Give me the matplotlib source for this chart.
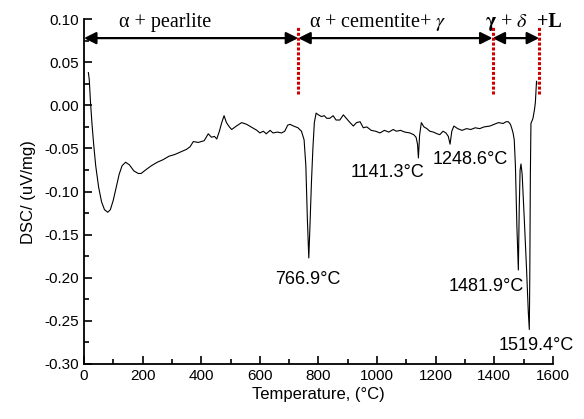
import matplotlib
matplotlib.use('Agg')
import matplotlib.pyplot as plt
from matplotlib.ticker import MultipleLocator, FormatStrFormatter

plt.rcParams['font.family'] = 'Liberation Sans'
plt.rcParams['mathtext.fontset'] = 'stix'
plt.rcParams['axes.unicode_minus'] = False
plt.rcParams['font.size'] = 11

# DSC curve
temp = [15, 18, 22, 27, 33, 40, 50, 60, 70, 81, 90, 100, 110, 120, 130, 142,
        155, 170, 185, 195, 210, 230, 250, 270, 290, 310, 330, 350, 362, 373,
        390, 410, 424, 435, 445, 453, 462, 470, 478, 486, 496, 504, 520, 538,
        555, 575, 590, 600, 612, 622, 635, 645, 660, 674, 685, 695, 703, 715,
        730, 742, 751, 757, 762, 767, 771, 776, 781, 786, 792, 800, 810, 820,
        828, 839, 850, 860, 873, 885, 895, 905, 919, 930, 942, 953, 965, 980,
        995, 1010, 1025, 1040, 1055, 1066, 1080, 1095, 1112, 1125, 1133, 1138,
        1141, 1145, 1151, 1160, 1170, 1180, 1192, 1205, 1214, 1225, 1235, 1243,
        1249, 1255, 1262, 1275, 1290, 1305, 1320, 1335, 1350, 1365, 1385, 1400,
        1414, 1430, 1440, 1448, 1455, 1459, 1464, 1468, 1472, 1477, 1482, 1485,
        1488, 1491, 1495, 1502, 1510, 1516, 1519.4, 1521, 1523, 1525, 1532,
        1537, 1540, 1542, 1544, 1545]
dsc = [0.038, 0.030, 0.005, -0.020, -0.045, -0.070, -0.095, -0.112, -0.121,
       -0.124, -0.121, -0.110, -0.095, -0.080, -0.070, -0.066, -0.069, -0.076,
       -0.079, -0.079, -0.075, -0.070, -0.066, -0.063, -0.059, -0.057, -0.054,
       -0.051, -0.048, -0.042, -0.043, -0.041, -0.033, -0.037, -0.036, -0.039,
       -0.030, -0.020, -0.012, -0.020, -0.025, -0.028, -0.024, -0.020, -0.022,
       -0.026, -0.029, -0.032, -0.030, -0.033, -0.029, -0.032, -0.031, -0.032,
       -0.030, -0.023, -0.022, -0.024, -0.026, -0.030, -0.040, -0.070, -0.130,
       -0.177, -0.140, -0.090, -0.050, -0.020, -0.009, -0.011, -0.013, -0.012,
       -0.015, -0.015, -0.012, -0.017, -0.017, -0.011, -0.015, -0.019, -0.024,
       -0.020, -0.019, -0.026, -0.025, -0.029, -0.030, -0.032, -0.029, -0.031,
       -0.028, -0.030, -0.029, -0.031, -0.032, -0.034, -0.037, -0.045, -0.061,
       -0.035, -0.020, -0.025, -0.027, -0.030, -0.031, -0.033, -0.034, -0.030,
       -0.032, -0.036, -0.045, -0.030, -0.024, -0.027, -0.029, -0.027, -0.028,
       -0.026, -0.027, -0.025, -0.024, -0.022, -0.020, -0.021, -0.019, -0.019,
       -0.022, -0.026, -0.032, -0.040, -0.070, -0.140, -0.191, -0.120, -0.075,
       -0.068, -0.080, -0.130, -0.190, -0.240, -0.260, -0.200, -0.080, -0.021,
       -0.015, -0.005, 0.003, 0.015, 0.028, 0.025]

# phase boundaries and labels
bounds = [0, 731, 1394, 1553]
phase_labels = [r'α + pearlite', r'α + cementite+ $\gamma$']
label_x = [277, 1003]

peaks = ['766.9°C', '1141.3°C', '1248.6°C', '1481.9°C', '1519.4°C']
peak_x = [765, 1037, 1317, 1373, 1544]
peak_y = [-0.202, -0.078, -0.063, -0.210, -0.278]

fig = plt.figure(figsize=(5.84, 4.19), dpi=100)
ax = fig.add_axes([0.1438, 0.1313, 0.803, 0.823])

ax.plot(temp, dsc, 'k-', linewidth=0.8)

# red dotted boundary lines
for b in bounds[1:]:
    ax.plot([b, b], [0.013, 0.091], color='#d00000', linestyle=(0, (1, 0.6)),
            linewidth=2.2, clip_on=False, zorder=4)

# double arrows
for i in range(3):
    ax.annotate('', xy=(bounds[i + 1], 0.078), xytext=(bounds[i], 0.078),
                arrowprops=dict(arrowstyle='<|-|>', color='k', lw=1.6,
                                mutation_scale=18, shrinkA=0, shrinkB=0),
                annotation_clip=False, zorder=3)

for lab, x in zip(phase_labels, label_x):
    ax.text(x, 0.0905, lab, family='Liberation Serif', fontsize=14.5,
            ha='center', va='baseline', clip_on=False)
ax.text(1368, 0.0905, r'$\mathbf{\gamma}$ + $\delta$', family='Liberation Serif',
        fontsize=14.5, ha='left', va='baseline', clip_on=False)
ax.text(1546, 0.0905, '+L', family='Liberation Serif', fontweight='bold',
        fontsize=14.5, ha='left', va='baseline', clip_on=False)

for lab, x, y in zip(peaks, peak_x, peak_y):
    ax.text(x, y, lab, fontsize=13, ha='center', va='center')

ax.set_xlim(0, 1600)
ax.set_ylim(-0.30, 0.10)
ax.xaxis.set_major_locator(MultipleLocator(200))
ax.xaxis.set_minor_locator(MultipleLocator(100))
ax.yaxis.set_major_locator(MultipleLocator(0.05))
ax.yaxis.set_minor_locator(MultipleLocator(0.025))
ax.yaxis.set_major_formatter(FormatStrFormatter('%.2f'))
ax.tick_params(which='both', direction='in', width=1.2, labelsize=11)
ax.tick_params(which='major', length=6)
ax.tick_params(which='minor', length=3.5)

for side in ['top', 'right']:
    ax.spines[side].set_visible(False)
for side in ['left', 'bottom']:
    ax.spines[side].set_linewidth(1.3)

ax.set_xlabel('Temperature, (°C)', fontsize=12, labelpad=3)
ax.set_ylabel('DSC/ (uV/mg)', fontsize=12, labelpad=6)

plt.savefig('out.png', dpi=100)
